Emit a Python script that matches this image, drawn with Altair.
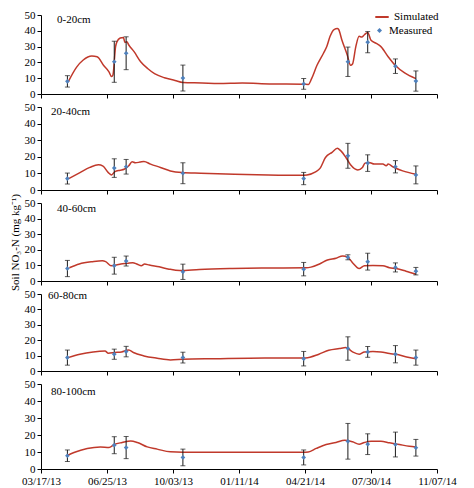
import altair as alt
import pandas as pd

RED = "#c0392b"
BLUE = "#4f81bd"
FONT = "Liberation Serif"

x_ticks = [0, 100, 200, 300, 400, 500, 600]
x_labels = ["03/17/13", "06/25/13", "10/03/13", "01/11/14", "04/21/14", "07/30/14", "11/07/14"]
y_ticks = [0, 10, 20, 30, 40, 50]
depths = ["0-20cm", "20-40cm", "40-60cm", "60-80cm", "80-100cm"]
meas_days = [40, 111, 129, 215, 398, 465, 495, 537, 568]

sim1_days = [41, 54, 64, 77, 85, 95, 103, 107, 109, 113, 115, 120, 125, 127, 130, 133, 141, 151, 162, 172,
             187, 203, 215, 244, 269, 305, 346, 397, 405, 410, 418, 428, 433, 438, 444, 449, 451, 456, 464, 469,
             472, 477, 482, 486, 490, 495, 500, 508, 515, 526, 537, 551, 568]
sim1_vals = [7.5, 17, 21.5, 24, 23.6, 18, 14, 11, 12, 30, 33, 35.4, 35.8, 32.6, 33, 31, 26.8, 20.4, 16, 12.9,
             10.3, 8.6, 7.3, 7, 6.6, 6.9, 6.4, 6.2, 6, 9.7, 18, 25.8, 30, 36.5, 40.8, 41.4, 40.8, 34, 24.7, 18.2,
             19, 30, 36.5, 36, 37.5, 39, 34, 32, 30, 23.6, 18, 13.3, 9.7]
meas1 = [8, 20.4, 25.8, 10.1, 6.4, 20.4, 32.8, 17.6, 8.2]
err1 = [3.6, 13, 10.4, 8.2, 3.4, 9.3, 6.7, 4.6, 6.4]

sim2_days = [42, 59, 74, 87, 94, 102, 107, 112, 120, 126, 133, 138, 143, 150, 156, 166, 181, 196, 214, 242,
             293, 344, 395, 403, 416, 423, 431, 441, 449, 454, 462, 469, 480, 487, 491, 497, 505, 518, 523, 526,
             533, 548, 568]
sim2_vals = [6.9, 10.5, 13.6, 15.2, 14.4, 10.5, 9.1, 11.1, 11.9, 12.5, 14.6, 17, 16.4, 16.8, 17.2, 15.6, 13.6, 11.5, 10.5, 10.1,
             9.5, 9.1, 8.9, 9.1, 10.9, 13.2, 19.6, 22.7, 25.1, 23.7, 19.6, 15.2, 12.1, 13.6, 16.2, 16.6, 15.6, 15.6, 14.6, 15.6,
             14, 11.5, 9.5]
meas2 = [6.9, 13.2, 14, 10.1, 6.9, 20.6, 16.2, 14, 9.1]
err2 = [3.3, 5.6, 4.4, 6.3, 3.7, 7.5, 5, 3.7, 5.4]

sim3_days = [43, 58, 78, 93, 98, 106, 114, 121, 131, 139, 146, 152, 157, 164, 179, 194, 210, 240, 290, 341,
             402, 409, 422, 434, 447, 457, 465, 472, 482, 490, 503, 518, 528, 538, 553, 568]
sim3_vals = [8.5, 10.9, 12.4, 13, 12.4, 9.8, 10.2, 10.9, 11.3, 11.7, 10.7, 9.8, 10.9, 10.2, 9.1, 7.6, 6.7, 7.4, 8, 8.3,
             8.5, 8.9, 10.9, 13.5, 14.6, 16.1, 15.2, 11.7, 8, 9.8, 10, 9.8, 8.5, 8, 6.3, 4.3]
meas3 = [8, 9.8, 12.8, 5.9, 7.6, 15.2, 12.4, 8.7, 6.3]
err3 = [5.2, 5.4, 3.2, 4.9, 4.3, 1.6, 5.4, 2.9, 2.4]

sim4_days = [41, 59, 79, 97, 102, 112, 122, 133, 140, 156, 176, 196, 215, 263, 339, 401, 421, 436, 452, 462,
             472, 482, 490, 503, 515, 528, 538, 554, 568]
sim4_vals = [8.7, 10.9, 12.4, 13, 11.5, 12, 12.4, 13.7, 12, 9.8, 8.3, 7.2, 7.6, 8, 8.5, 8.5, 10.9, 13.5, 14.6, 15.2,
             12.4, 10.9, 12.4, 12.6, 12.4, 11.3, 10.9, 9.1, 8]
meas4 = [8.7, 10.9, 12.6, 8.7, 8, 14.6, 12.4, 10.9, 8.7]
err4 = [4.9, 3.3, 3.4, 3.5, 4.7, 7.6, 3.5, 5.6, 4.9]

sim5_days = [39, 50, 70, 90, 103, 111, 123, 136, 146, 161, 176, 196, 215, 281, 397, 405, 417, 432, 447, 460,
             472, 482, 490, 500, 515, 528, 543, 558, 568]
sim5_vals = [7.8, 9.7, 12.1, 13, 12.6, 14.4, 15.6, 16.5, 15.6, 13, 11.7, 10.1, 9.9, 9.9, 9.9, 10, 12.1, 14.4, 15.6, 16.9,
             16, 14.6, 15.6, 16.3, 16.3, 15.4, 14.4, 13.4, 13]
meas5 = [7.8, 14, 12.6, 6.8, 6.8, 16.3, 14.6, 14.4, 12.5]
err5 = [3.4, 5, 6.5, 4.9, 4.4, 10.5, 6.1, 7.3, 4.9]

sim_days = [sim1_days, sim2_days, sim3_days, sim4_days, sim5_days]
sim_vals = [sim1_vals, sim2_vals, sim3_vals, sim4_vals, sim5_vals]
meas_vals = [meas1, meas2, meas3, meas4, meas5]
meas_errs = [err1, err2, err3, err4, err5]

heights = [79, 83, 78, 77, 85]
label_x = [16, 10, 16, 7, 10]
label_y = [5, 5, 6, 2, 8]

label_expr = "[" + ",".join("'" + s + "'" for s in x_labels) + "][round(datum.value/100)]"

panels = []
for i in range(5):
    sim = pd.DataFrame({"day": sim_days[i], "v": sim_vals[i], "series": "Simulated"})
    meas = pd.DataFrame({
        "day": meas_days,
        "v": meas_vals[i],
        "lo": [m - e for m, e in zip(meas_vals[i], meas_errs[i])],
        "hi": [m + e for m, e in zip(meas_vals[i], meas_errs[i])],
        "series": "Measured",
    })
    last = i == 4
    xaxis = alt.Axis(values=x_ticks, labels=last, labelExpr=label_expr, title=None, grid=False,
                     tickSize=4, domainColor="black", tickColor="black", labelColor="black",
                     labelFont=FONT, labelFontSize=11, labelFlush=False, labelOverlap=False,
                     labelPadding=2)
    ykw = dict(values=y_ticks, grid=False, tickSize=4, domainColor="black", tickColor="black",
               labelColor="black", labelFont=FONT, labelFontSize=11, labelPadding=2,
               labelOverlap=False, labelFlush=False, labelExpr="datum.label")
    if i == 2:
        yaxis = alt.Axis(title="Soil NO\u2083-N (mg kg\u207b\u00b9)", titleFont=FONT, titleFontSize=11,
                         titleFontWeight="normal", titleColor="black", titlePadding=4, **ykw)
    else:
        yaxis = alt.Axis(title=None, **ykw)
    xs = alt.Scale(domain=[0, 600], nice=False, zero=False)
    ys = alt.Scale(domain=[0, 50], nice=False)

    base_x = alt.X("day:Q", scale=xs, axis=xaxis)
    base_y = alt.Y("v:Q", scale=ys, axis=yaxis)

    if i == 0:
        line = alt.Chart(sim).mark_line(strokeWidth=1.5, interpolate="monotone").encode(
            x=base_x,
            y=base_y,
            color=alt.Color("series:N", scale=alt.Scale(domain=["Simulated"], range=[RED]),
                            legend=alt.Legend(title=None, orient="none", legendX=333, legendY=-6,
                                              symbolType="stroke", symbolSize=180, symbolStrokeWidth=2,
                                              labelFont=FONT, labelFontSize=11, labelColor="black")),
        )
        pts = alt.Chart(meas).mark_point(filled=True, size=22, color=BLUE, opacity=1).encode(
            x=alt.X("day:Q", axis=xaxis),
            y=alt.Y("v:Q", axis=yaxis),
            shape=alt.Shape("series:N", scale=alt.Scale(domain=["Measured"], range=["diamond"]),
                            legend=alt.Legend(title=None, orient="none", legendX=333, legendY=10,
                                              symbolSize=25, symbolFillColor=BLUE, symbolStrokeColor=BLUE,
                                              labelFont=FONT, labelFontSize=11, labelColor="black")),
        )
    else:
        line = alt.Chart(sim).mark_line(strokeWidth=1.5, interpolate="monotone", color=RED).encode(
            x=base_x,
            y=base_y,
        )
        pts = alt.Chart(meas).mark_point(filled=True, size=22, color=BLUE, opacity=1, shape="diamond").encode(
            x=alt.X("day:Q", axis=xaxis),
            y=alt.Y("v:Q", axis=yaxis),
        )

    rule = alt.Chart(meas).mark_rule(color="#1a1a1a", strokeWidth=1).encode(
        x=alt.X("day:Q", axis=xaxis), y=alt.Y("lo:Q", axis=yaxis), y2="hi:Q")
    cap_lo = alt.Chart(meas).mark_tick(color="#1a1a1a", orient="horizontal", size=5, thickness=1).encode(
        x=alt.X("day:Q", axis=xaxis), y=alt.Y("lo:Q", axis=yaxis))
    cap_hi = alt.Chart(meas).mark_tick(color="#1a1a1a", orient="horizontal", size=5, thickness=1).encode(
        x=alt.X("day:Q", axis=xaxis), y=alt.Y("hi:Q", axis=yaxis))
    txt = alt.Chart(pd.DataFrame({"t": [depths[i]]})).mark_text(
        align="left", baseline="middle", font=FONT, fontSize=11, color="black").encode(
        x=alt.value(label_x[i]), y=alt.value(label_y[i]), text="t:N")

    layer = alt.layer(line, rule, cap_lo, cap_hi, pts, txt).properties(width=396, height=heights[i])
    panels.append(layer)

chart = alt.vconcat(*panels, spacing=13, bounds="flush").resolve_scale(
    color="independent", shape="independent").resolve_legend(
    color="independent", shape="independent").properties(
    padding={"left": 0, "top": 0, "right": 4, "bottom": 0}
).configure_view(stroke="transparent").configure_axis(labelOverlap=False)

chart.save("out.html", embed_options={"renderer": "svg", "actions": False})
